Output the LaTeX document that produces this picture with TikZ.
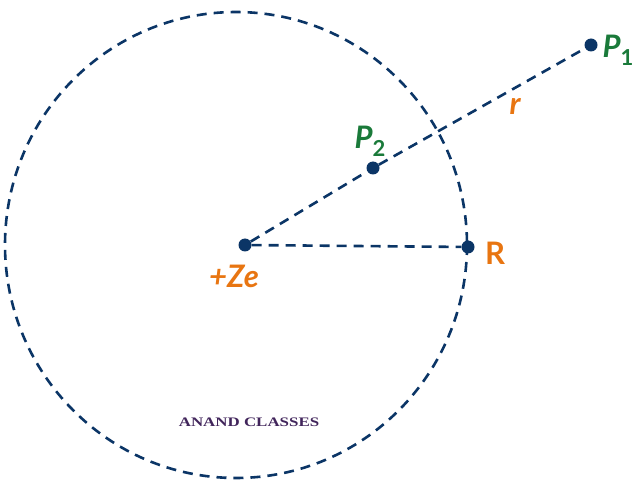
\documentclass[tikz,border=0pt]{standalone}
\usepackage{fontspec}
\setmainfont{Liberation Serif}
\newfontfamily\lblsans{Lato}
\usepackage{tikz}
\usetikzlibrary{positioning}
\definecolor{navy}{HTML}{0B3566}
\definecolor{grn}{HTML}{1A7A3A}
\definecolor{org}{HTML}{E87511}
\tikzset{dot/.style={circle,fill=navy,inner sep=0pt,minimum size=13pt}}
\tikzset{dsh/.style={navy,line width=2.6pt,dash pattern=on 10pt off 7pt}}
\tikzstyle{lbl}=[font=\fontsize{31}{34}\selectfont\lblsans\bfseries\itshape, inner sep=1pt]
\newcommand{\sub}[1]{\raisebox{-8pt}{\fontsize{22}{24}\selectfont\upshape #1}}
\begin{document}
\begin{tikzpicture}[x=1pt,y=-1pt]
\useasboundingbox (0,0) rectangle (643,481);
\draw[dsh] (236,245) ellipse (231 and 233);
\node[dot] (O) at (245,245){};
\node[dot] (R) at (468,247){};
\node[dot] (P2) at (373,168){};
\node[dot] (P1) at (591,45){};

\draw[dsh] (O) -- (R);
\draw[dsh] (O) -- (P2) -- (P1);

\node[lbl, grn] at (618,50) {P\sub{1}};
\node[lbl, grn] at (370,141) {P\sub{2}};
\node[lbl, org] at (515,106) {r};
\node[lbl, org, font=\fontsize{31}{34}\selectfont\lblsans\bfseries] at (495,253) {R};
\node[lbl, org] at (234,276) {+Ze};
\node[font=\fontsize{13}{15}\selectfont\bfseries, color=navy!70!purple, xscale=1.3] at (249,422) {ANAND CLASSES};
\end{tikzpicture}
\end{document}
